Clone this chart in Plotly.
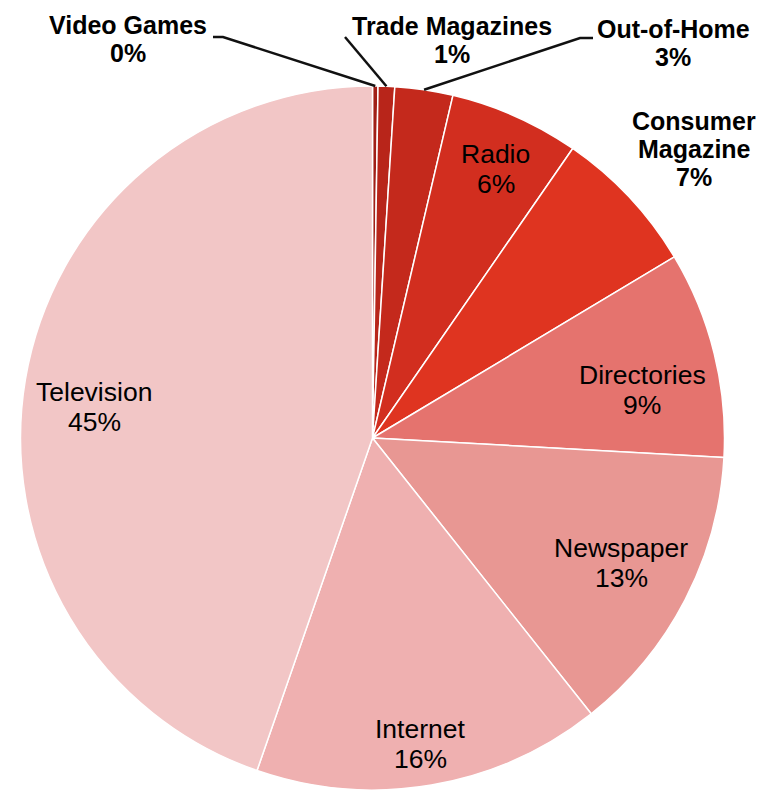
import math
import plotly.graph_objects as go

# Share of advertising spend by medium (percent), clockwise from 12 o'clock
categories = ["Video Games", "Trade Magazines", "Out-of-Home", "Radio",
              "Consumer Magazine", "Directories", "Newspaper", "Internet", "Television"]
shares = [0.25, 0.76, 2.66, 5.96, 6.77, 9.48, 13.45, 15.99, 44.68]
colors = ["#A11F17", "#B8251A", "#C4291C", "#D22E1F", "#DF3420",
          "#E5736E", "#E89793", "#EFB0B0", "#F2C6C6"]

W, H = 761, 790

# label placement (pixel centre x, centre y of first line, bold/outside)
label_pos = {
    "Video Games": (128, 25, True),
    "Trade Magazines": (452, 26, True),
    "Out-of-Home": (673, 29, True),
    "Radio": (496, 154, False),
    "Consumer Magazine": (694, 121, True),
    "Directories": (642, 375, False),
    "Newspaper": (621, 548, False),
    "Internet": (420, 729, False),
    "Television": (94, 392, False),
}
label_lines = {"Consumer Magazine": ["Consumer", "Magazine"]}

# leader line elbows for the small outside-labelled slices (pixels)
leader_elbows = {
    "Video Games": [(213, 37), (223, 37)],
    "Trade Magazines": [(345, 37)],
    "Out-of-Home": [(593, 38), (580, 38)],
}

dom_x = [18 / W, 727 / W]
dom_y = [0.0, 1 - 86 / H]

fig = go.Figure(go.Pie(
    labels=categories,
    values=shares,
    sort=False,
    direction="clockwise",
    rotation=0,
    textinfo="none",
    hoverinfo="label+percent",
    marker=dict(colors=colors, line=dict(color="white", width=1.5)),
    domain=dict(x=dom_x, y=dom_y),
))

# pie geometry in pixels, derived from the domain
wpx = (dom_x[1] - dom_x[0]) * W
hpx = (dom_y[1] - dom_y[0]) * H
r = min(wpx, hpx) / 2
cx = (dom_x[0] + dom_x[1]) / 2 * W
cy = H - (dom_y[0] + dom_y[1]) / 2 * H


def px2paper(x, y):
    return x / W, 1 - y / H


total = sum(shares)
annotations = []
shapes = []
cum = 0.0
for name, val in zip(categories, shares):
    mid = (cum + val / 2) / total * 2 * math.pi
    cum += val
    pct = f"{round(val / total * 100)}%"
    x, y0, bold = label_pos[name]
    lines = label_lines.get(name, [name]) + [pct]
    spacing = 28 if bold else 30
    for i, line in enumerate(lines):
        ax, ay = px2paper(x, y0 + i * spacing)
        annotations.append(dict(
            x=ax, y=ay, xref="paper", yref="paper",
            xanchor="center", yanchor="middle", showarrow=False,
            text=line,
            font=dict(family="Liberation Sans, Arial, sans-serif",
                      size=25 if bold else 26.5, color="black",
                      weight="bold" if bold else "normal"),
        ))
    if name in leader_elbows:
        ex = cx + r * math.sin(mid)
        ey = cy - r * math.cos(mid)
        pts = leader_elbows[name] + [(ex, ey)]
        path = ""
        for j, (px, py) in enumerate(pts):
            u, v = px2paper(px, py)
            path += ("M" if j == 0 else "L") + f"{u:.5f},{v:.5f} "
        shapes.append(dict(type="path", path=path.strip(), xref="paper", yref="paper",
                           line=dict(color="#111111", width=2.5)))

fig.update_layout(
    width=W, height=H,
    margin=dict(l=0, r=0, t=0, b=0),
    paper_bgcolor="white", plot_bgcolor="white",
    showlegend=False,
    annotations=annotations,
    shapes=shapes,
)

fig.write_html("out.html")
